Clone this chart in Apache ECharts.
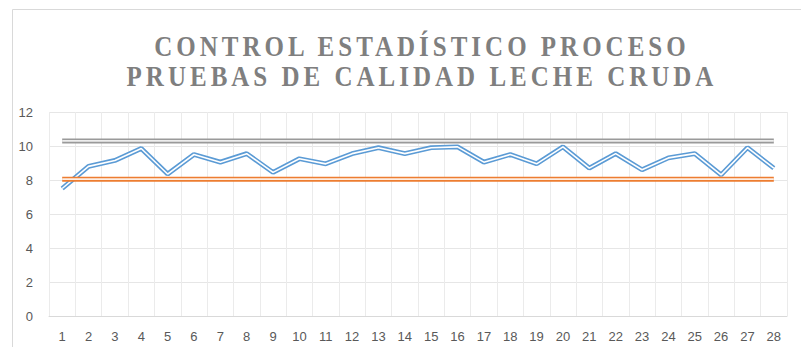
<!DOCTYPE html>
<html>
<head>
<meta charset="utf-8">
<script src="https://cdn.jsdelivr.net/npm/echarts@6/dist/echarts.min.js"></script>
<style>
  html, body { margin: 0; padding: 0; background: #ffffff; }
  #main { width: 801px; height: 347px; }
</style>
</head>
<body>
<div id="main"></div>
<script>
// Control chart: raw milk quality tests per sample
const titleLines = ['CONTROL ESTADÍSTICO PROCESO', 'PRUEBAS DE CALIDAD LECHE CRUDA'];

const samples = ['1','2','3','4','5','6','7','8','9','10','11','12','13','14',
                 '15','16','17','18','19','20','21','22','23','24','25','26','27','28'];

const measured = [7.5, 8.8, 9.15, 9.85, 8.35, 9.5, 9.05, 9.55, 8.45, 9.25, 8.95, 9.55, 9.9, 9.55,
                  9.9, 9.95, 9.05, 9.5, 8.95, 9.95, 8.7, 9.55, 8.6, 9.3, 9.55, 8.3, 9.9, 8.7];

const lowerLimit = [8.05, 8.05, 8.05, 8.05, 8.05, 8.05, 8.05, 8.05, 8.05, 8.05, 8.05, 8.05, 8.05, 8.05,
                    8.05, 8.05, 8.05, 8.05, 8.05, 8.05, 8.05, 8.05, 8.05, 8.05, 8.05, 8.05, 8.05, 8.05];

const upperLimit = [10.3, 10.3, 10.3, 10.3, 10.3, 10.3, 10.3, 10.3, 10.3, 10.3, 10.3, 10.3, 10.3, 10.3,
                    10.3, 10.3, 10.3, 10.3, 10.3, 10.3, 10.3, 10.3, 10.3, 10.3, 10.3, 10.3, 10.3, 10.3];

const yTicks = { min: 0, max: 12, interval: 2 };

// "Double" compound stroke: a wide coloured line with a thin light line on top
function doubleLine(name, data, color, inner, width) {
  return [
    { name: name, type: 'line', data: data, symbol: 'none', silent: true,
      lineStyle: { color: color, width: width } },
    { name: name + '-inner', type: 'line', data: data, symbol: 'none', silent: true,
      lineStyle: { color: inner, width: 1.6 } }
  ];
}

function titleText(text, y) {
  return {
    type: 'text', x: 422, y: y, scaleY: 1.15,
    style: { text: text, fill: '#7f7f7f', align: 'center', verticalAlign: 'middle',
             fontFamily: 'Liberation Serif', fontWeight: 'bold', fontSize: 25 }
  };
}

const chart = echarts.init(document.getElementById('main'), null, { renderer: 'svg' });

chart.setOption({
  animation: false,
  backgroundColor: '#ffffff',
  graphic: [
    { type: 'rect', silent: true, z: -1,
      shape: { x: 12.5, y: 9.5, width: 1000, height: 1000 },
      style: { fill: 'none', stroke: '#d9d9d9', lineWidth: 1 } },
    titleText(titleLines[0], 46),
    titleText(titleLines[1], 76)
  ],
  grid: { left: 49, right: 14, top: 112, bottom: 31, containLabel: false },
  xAxis: {
    type: 'category',
    data: samples,
    boundaryGap: true,
    axisLine: { show: true, lineStyle: { color: '#d9d9d9' } },
    axisTick: { show: false },
    axisLabel: { color: '#595959', fontFamily: 'Liberation Sans', fontSize: 13, margin: 14, interval: 0 },
    splitLine: { show: true, interval: 0, lineStyle: { color: '#ebebeb', width: 1 } }
  },
  yAxis: {
    type: 'value',
    min: yTicks.min, max: yTicks.max, interval: yTicks.interval,
    axisLine: { show: false },
    axisTick: { show: false },
    axisLabel: { color: '#595959', fontFamily: 'Liberation Sans', fontSize: 13, margin: 16 },
    splitLine: { show: true, lineStyle: { color: '#e6e6e6', width: 1 } }
  },
  series: [].concat(
    doubleLine('Muestras', measured, '#5b9bd5', '#ffffff', 4.8),
    doubleLine('LCI', lowerLimit, '#ed7d31', '#fdeee4', 5),
    doubleLine('LCS', upperLimit, '#9a9a9a', '#ededed', 5)
  )
});

// Serif face and wide letter spacing for the two title lines
function styleTitle() {
  document.querySelectorAll('#main svg text').forEach(function (t) {
    if (titleLines.indexOf(t.textContent) >= 0) {
      t.setAttribute('letter-spacing', '4');
      t.setAttribute('font-family', 'Liberation Serif');
      t.style.font = 'bold 25px "Liberation Serif", "Times New Roman", serif';
    }
  });
}
styleTitle();
chart.on('finished', styleTitle);
</script>
</body>
</html>
